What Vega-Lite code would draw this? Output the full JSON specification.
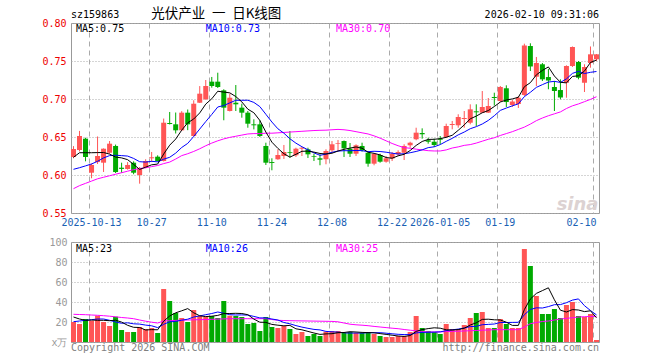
{
  "$schema": "https://vega.github.io/schema/vega-lite/v6.json",
  "padding": {"left": 41, "top": 6, "right": 4, "bottom": 4},
  "background": "white",
  "bounds": "flush",
  "spacing": 29,
  "config": {
    "view": {"stroke": "#999999", "strokeWidth": 1},
    "axis": {"domain": false, "ticks": false, "labelFont": "DejaVu Sans Mono", "labelFontSize": 10, "labelOverlap": false},
    "text": {"font": "DejaVu Sans Mono", "fontSize": 10}
  },
  "datasets": {
    "k": [
      {"d":"2025-09-30","o":0.6237,"h":0.638,"l":0.622,"c":0.6342,"v":20,"m5":0.6233,"m10":0.6075,"m30":0.582,"vm5":25,"vm10":20.3,"vm30":27.7},
      {"d":"2025-10-09","o":0.6329,"h":0.658,"l":0.631,"c":0.6513,"v":18,"m5":0.6293,"m10":0.6096,"m30":0.586,"vm5":23,"vm10":21,"vm30":27.5},
      {"d":"2025-10-10","o":0.6478,"h":0.649,"l":0.618,"c":0.6237,"v":23,"m5":0.6293,"m10":0.612,"m30":0.589,"vm5":21.7,"vm10":21.7,"vm30":27.3},
      {"d":"2025-10-13","o":0.603,"h":0.615,"l":0.5957,"c":0.6132,"v":21.3,"m5":0.6293,"m10":0.6145,"m30":0.592,"vm5":22,"vm10":22.3,"vm30":27},
      {"d":"2025-10-14","o":0.617,"h":0.6507,"l":0.6145,"c":0.625,"v":26.3,"m5":0.6295,"m10":0.618,"m30":0.595,"vm5":21.7,"vm10":23,"vm30":26.7},
      {"d":"2025-10-15","o":0.6162,"h":0.635,"l":0.604,"c":0.6346,"v":20,"m5":0.6296,"m10":0.6225,"m30":0.597,"vm5":21.7,"vm10":23,"vm30":26.3},
      {"d":"2025-10-16","o":0.6293,"h":0.6447,"l":0.628,"c":0.6412,"v":16,"m5":0.6275,"m10":0.6255,"m30":0.599,"vm5":21.3,"vm10":21.7,"vm30":25.8},
      {"d":"2025-10-17","o":0.6382,"h":0.64,"l":0.6026,"c":0.6039,"v":25.3,"m5":0.6236,"m10":0.626,"m30":0.601,"vm5":21.8,"vm10":20,"vm30":25.2},
      {"d":"2025-10-20","o":0.6096,"h":0.6162,"l":0.603,"c":0.608,"v":12,"m5":0.6225,"m10":0.6255,"m30":0.603,"vm5":19.9,"vm10":18.7,"vm30":24.5},
      {"d":"2025-10-21","o":0.6079,"h":0.617,"l":0.607,"c":0.6132,"v":10,"m5":0.6202,"m10":0.6249,"m30":0.605,"vm5":16.7,"vm10":19.2,"vm30":24},
      {"d":"2025-10-22","o":0.6162,"h":0.618,"l":0.601,"c":0.603,"v":10,"m5":0.6139,"m10":0.6218,"m30":0.607,"vm5":14.7,"vm10":18.2,"vm30":23.3},
      {"d":"2025-10-23","o":0.6,"h":0.6105,"l":0.5886,"c":0.609,"v":15,"m5":0.6074,"m10":0.6175,"m30":0.6085,"vm5":14.5,"vm10":17.9,"vm30":22},
      {"d":"2025-10-24","o":0.6096,"h":0.6207,"l":0.609,"c":0.6184,"v":13,"m5":0.6103,"m10":0.617,"m30":0.6095,"vm5":12,"vm10":16.9,"vm30":20.8},
      {"d":"2025-10-27","o":0.622,"h":0.6303,"l":0.617,"c":0.6233,"v":14,"m5":0.6134,"m10":0.618,"m30":0.611,"vm5":12.4,"vm10":16.2,"vm30":19.8},
      {"d":"2025-10-28","o":0.6241,"h":0.6259,"l":0.6178,"c":0.6184,"v":9,"m5":0.6144,"m10":0.6173,"m30":0.6125,"vm5":12.2,"vm10":14.4,"vm30":19},
      {"d":"2025-10-29","o":0.6184,"h":0.6743,"l":0.6178,"c":0.6688,"v":53,"m5":0.6276,"m10":0.6208,"m30":0.615,"vm5":20.8,"vm10":17.7,"vm30":21},
      {"d":"2025-10-30","o":0.6684,"h":0.6829,"l":0.6665,"c":0.6671,"v":41,"m5":0.6392,"m10":0.6233,"m30":0.617,"vm5":26,"vm10":20.2,"vm30":21.3},
      {"d":"2025-10-31","o":0.6667,"h":0.6822,"l":0.6546,"c":0.6588,"v":29,"m5":0.6473,"m10":0.6288,"m30":0.621,"vm5":29.2,"vm10":20.6,"vm30":21.6},
      {"d":"2025-11-03","o":0.6588,"h":0.684,"l":0.658,"c":0.682,"v":24,"m5":0.659,"m10":0.6362,"m30":0.6255,"vm5":31.2,"vm10":21.8,"vm30":21.8},
      {"d":"2025-11-04","o":0.682,"h":0.6862,"l":0.659,"c":0.6667,"v":20,"m5":0.6687,"m10":0.6416,"m30":0.628,"vm5":33.4,"vm10":22.8,"vm30":22},
      {"d":"2025-11-05","o":0.6513,"h":0.6983,"l":0.6507,"c":0.6938,"v":32,"m5":0.6737,"m10":0.6507,"m30":0.631,"vm5":29.2,"vm10":25,"vm30":22.2},
      {"d":"2025-11-06","o":0.6951,"h":0.717,"l":0.6947,"c":0.707,"v":26,"m5":0.6817,"m10":0.6605,"m30":0.6345,"vm5":26.2,"vm10":26.1,"vm30":22.3},
      {"d":"2025-11-07","o":0.6996,"h":0.725,"l":0.699,"c":0.7171,"v":25,"m5":0.6933,"m10":0.6703,"m30":0.6385,"vm5":25.4,"vm10":27.3,"vm30":22.5},
      {"d":"2025-11-10","o":0.7228,"h":0.729,"l":0.7149,"c":0.7171,"v":26,"m5":0.7003,"m10":0.6797,"m30":0.642,"vm5":25.8,"vm10":28.5,"vm30":22.7},
      {"d":"2025-11-11","o":0.7228,"h":0.7346,"l":0.7145,"c":0.7158,"v":24,"m5":0.7102,"m10":0.6895,"m30":0.645,"vm5":26.6,"vm10":30,"vm30":22.9},
      {"d":"2025-11-12","o":0.7114,"h":0.7128,"l":0.672,"c":0.6886,"v":41,"m5":0.7091,"m10":0.6914,"m30":0.6475,"vm5":28.4,"vm10":28.8,"vm30":23.1},
      {"d":"2025-11-13","o":0.6842,"h":0.707,"l":0.6836,"c":0.7017,"v":26.3,"m5":0.7081,"m10":0.6949,"m30":0.6495,"vm5":28.5,"vm10":27.3,"vm30":23.3},
      {"d":"2025-11-14","o":0.6951,"h":0.7184,"l":0.6842,"c":0.693,"v":26,"m5":0.7032,"m10":0.6983,"m30":0.651,"vm5":28.7,"vm10":27,"vm30":23.3},
      {"d":"2025-11-17","o":0.6886,"h":0.6938,"l":0.6754,"c":0.682,"v":25,"m5":0.6962,"m10":0.6983,"m30":0.6525,"vm5":28.5,"vm10":27.1,"vm30":23.3},
      {"d":"2025-11-18","o":0.682,"h":0.6842,"l":0.6622,"c":0.6675,"v":18,"m5":0.6866,"m10":0.6984,"m30":0.654,"vm5":27.3,"vm10":26.9,"vm30":23.3},
      {"d":"2025-11-19","o":0.6667,"h":0.6733,"l":0.66,"c":0.6654,"v":19,"m5":0.6819,"m10":0.6955,"m30":0.6545,"vm5":22.9,"vm10":25.6,"vm30":23.3},
      {"d":"2025-11-20","o":0.6667,"h":0.672,"l":0.65,"c":0.6513,"v":11,"m5":0.6718,"m10":0.69,"m30":0.6545,"vm5":19.8,"vm10":24.1,"vm30":23.3},
      {"d":"2025-11-21","o":0.6382,"h":0.6425,"l":0.6132,"c":0.6162,"v":25,"m5":0.6565,"m10":0.6799,"m30":0.655,"vm5":19.6,"vm10":24.1,"vm30":23.3},
      {"d":"2025-11-24","o":0.617,"h":0.622,"l":0.6062,"c":0.6158,"v":15,"m5":0.6432,"m10":0.6697,"m30":0.655,"vm5":17.6,"vm10":23,"vm30":22.5},
      {"d":"2025-11-25","o":0.6207,"h":0.6338,"l":0.62,"c":0.6263,"v":14,"m5":0.635,"m10":0.6608,"m30":0.6555,"vm5":16.8,"vm10":22,"vm30":21.7},
      {"d":"2025-11-26","o":0.625,"h":0.6395,"l":0.6211,"c":0.6303,"v":16,"m5":0.628,"m10":0.655,"m30":0.656,"vm5":16.2,"vm10":19.5,"vm30":21.5},
      {"d":"2025-11-27","o":0.6299,"h":0.6579,"l":0.6228,"c":0.6289,"v":13,"m5":0.6235,"m10":0.6477,"m30":0.6565,"vm5":16.6,"vm10":18.2,"vm30":21.3},
      {"d":"2025-11-28","o":0.6259,"h":0.6359,"l":0.6237,"c":0.6346,"v":8,"m5":0.6272,"m10":0.6419,"m30":0.657,"vm5":13.2,"vm10":16.4,"vm30":21.2},
      {"d":"2025-12-01","o":0.6346,"h":0.6368,"l":0.625,"c":0.6359,"v":10,"m5":0.6312,"m10":0.6372,"m30":0.6575,"vm5":12.2,"vm10":14.9,"vm30":21.1},
      {"d":"2025-12-02","o":0.6338,"h":0.6359,"l":0.6224,"c":0.6272,"v":6,"m5":0.6314,"m10":0.6332,"m30":0.658,"vm5":10.6,"vm10":13.7,"vm30":21},
      {"d":"2025-12-03","o":0.6246,"h":0.628,"l":0.6184,"c":0.6237,"v":8,"m5":0.6301,"m10":0.6291,"m30":0.6585,"vm5":9,"vm10":12.6,"vm30":20.9},
      {"d":"2025-12-04","o":0.622,"h":0.6272,"l":0.6128,"c":0.6201,"v":6,"m5":0.6283,"m10":0.6259,"m30":0.6588,"vm5":7.6,"vm10":12.1,"vm30":20.8},
      {"d":"2025-12-05","o":0.6207,"h":0.6338,"l":0.6141,"c":0.6316,"v":10.3,"m5":0.6277,"m10":0.6275,"m30":0.659,"vm5":8.1,"vm10":10.6,"vm30":20.7},
      {"d":"2025-12-08","o":0.6325,"h":0.6447,"l":0.6293,"c":0.6404,"v":11,"m5":0.6286,"m10":0.6299,"m30":0.6595,"vm5":8.3,"vm10":10.2,"vm30":20.6},
      {"d":"2025-12-09","o":0.6408,"h":0.6461,"l":0.6316,"c":0.6417,"v":11,"m5":0.6315,"m10":0.6315,"m30":0.66,"vm5":9.3,"vm10":9.9,"vm30":20.2},
      {"d":"2025-12-10","o":0.6447,"h":0.6454,"l":0.6237,"c":0.6351,"v":9,"m5":0.6338,"m10":0.632,"m30":0.6595,"vm5":9.5,"vm10":9.2,"vm30":19},
      {"d":"2025-12-11","o":0.6346,"h":0.6421,"l":0.6237,"c":0.628,"v":10,"m5":0.6354,"m10":0.6319,"m30":0.6585,"vm5":10.3,"vm10":8.9,"vm30":17.8},
      {"d":"2025-12-12","o":0.628,"h":0.6404,"l":0.625,"c":0.6391,"v":9,"m5":0.6369,"m10":0.6323,"m30":0.657,"vm5":10,"vm10":9,"vm30":17.2},
      {"d":"2025-12-15","o":0.6382,"h":0.6425,"l":0.6307,"c":0.6325,"v":9,"m5":0.6353,"m10":0.632,"m30":0.6555,"vm5":9.6,"vm10":8.9,"vm30":16.8},
      {"d":"2025-12-16","o":0.6293,"h":0.6316,"l":0.6109,"c":0.6149,"v":10,"m5":0.6299,"m10":0.6307,"m30":0.654,"vm5":9.4,"vm10":9.3,"vm30":16.3},
      {"d":"2025-12-17","o":0.6149,"h":0.6289,"l":0.6128,"c":0.628,"v":8,"m5":0.6285,"m10":0.6312,"m30":0.6515,"vm5":9.2,"vm10":9.3,"vm30":15.6},
      {"d":"2025-12-18","o":0.6263,"h":0.628,"l":0.6162,"c":0.6175,"v":6,"m5":0.6264,"m10":0.6309,"m30":0.6485,"vm5":8.4,"vm10":9.3,"vm30":15},
      {"d":"2025-12-19","o":0.6175,"h":0.625,"l":0.6162,"c":0.622,"v":5,"m5":0.623,"m10":0.63,"m30":0.645,"vm5":7.6,"vm10":8.8,"vm30":14.4},
      {"d":"2025-12-22","o":0.6217,"h":0.6303,"l":0.6184,"c":0.628,"v":5,"m5":0.6221,"m10":0.6287,"m30":0.6415,"vm5":6.8,"vm10":8.2,"vm30":13.8},
      {"d":"2025-12-23","o":0.6272,"h":0.6325,"l":0.625,"c":0.6303,"v":6,"m5":0.6252,"m10":0.6276,"m30":0.6385,"vm5":6,"vm10":7.7,"vm30":13.3},
      {"d":"2025-12-24","o":0.6293,"h":0.6404,"l":0.6197,"c":0.6382,"v":6,"m5":0.6272,"m10":0.6279,"m30":0.636,"vm5":5.6,"vm10":7.4,"vm30":12.5},
      {"d":"2025-12-25","o":0.6391,"h":0.6438,"l":0.6359,"c":0.6425,"v":10,"m5":0.6322,"m10":0.6293,"m30":0.6352,"vm5":6.4,"vm10":7.4,"vm30":11.8},
      {"d":"2025-12-26","o":0.647,"h":0.6622,"l":0.6457,"c":0.6557,"v":26,"m5":0.6389,"m10":0.631,"m30":0.634,"vm5":10.6,"vm10":9.1,"vm30":11.2},
      {"d":"2025-12-29","o":0.6553,"h":0.6614,"l":0.6478,"c":0.6536,"v":14,"m5":0.6441,"m10":0.6331,"m30":0.633,"vm5":12.4,"vm10":9.6,"vm30":10.6},
      {"d":"2025-12-30","o":0.6457,"h":0.649,"l":0.6412,"c":0.6438,"v":11,"m5":0.6468,"m10":0.636,"m30":0.632,"vm5":13.4,"vm10":9.7,"vm30":10.1},
      {"d":"2025-12-31","o":0.6438,"h":0.6478,"l":0.6368,"c":0.6395,"v":10,"m5":0.647,"m10":0.6371,"m30":0.6316,"vm5":14.2,"vm10":9.9,"vm30":10},
      {"d":"2026-01-05","o":0.6478,"h":0.6513,"l":0.6404,"c":0.6464,"v":8,"m5":0.6478,"m10":0.64,"m30":0.6316,"vm5":13.8,"vm10":10.1,"vm30":10.2},
      {"d":"2026-01-06","o":0.65,"h":0.6675,"l":0.6487,"c":0.6645,"v":18,"m5":0.6496,"m10":0.6443,"m30":0.633,"vm5":12.2,"vm10":11.4,"vm30":10.4},
      {"d":"2026-01-07","o":0.6658,"h":0.6711,"l":0.6601,"c":0.6671,"v":13,"m5":0.6523,"m10":0.6482,"m30":0.6355,"vm5":12,"vm10":12.2,"vm30":10.6},
      {"d":"2026-01-08","o":0.6654,"h":0.6799,"l":0.6622,"c":0.6763,"v":13,"m5":0.6588,"m10":0.6528,"m30":0.637,"vm5":12.4,"vm10":12.9,"vm30":10.8},
      {"d":"2026-01-09","o":0.6737,"h":0.6842,"l":0.6622,"c":0.675,"v":17,"m5":0.6659,"m10":0.6565,"m30":0.639,"vm5":13.8,"vm10":14,"vm30":11},
      {"d":"2026-01-12","o":0.6688,"h":0.693,"l":0.6667,"c":0.6864,"v":24,"m5":0.6739,"m10":0.6609,"m30":0.64,"vm5":17,"vm10":15.4,"vm30":11.3},
      {"d":"2026-01-13","o":0.6838,"h":0.693,"l":0.6645,"c":0.6825,"v":29,"m5":0.6775,"m10":0.6636,"m30":0.642,"vm5":19.2,"vm10":15.7,"vm30":11.5},
      {"d":"2026-01-14","o":0.682,"h":0.7105,"l":0.6816,"c":0.6895,"v":30,"m5":0.6819,"m10":0.6671,"m30":0.6445,"vm5":22.6,"vm10":17.3,"vm30":11.8},
      {"d":"2026-01-15","o":0.682,"h":0.7013,"l":0.6816,"c":0.6908,"v":14,"m5":0.6848,"m10":0.6718,"m30":0.647,"vm5":22.8,"vm10":17.6,"vm30":12},
      {"d":"2026-01-16","o":0.7026,"h":0.7083,"l":0.6914,"c":0.7013,"v":14,"m5":0.6901,"m10":0.678,"m30":0.649,"vm5":22.2,"vm10":18,"vm30":12.3},
      {"d":"2026-01-19","o":0.6974,"h":0.7171,"l":0.696,"c":0.7158,"v":23,"m5":0.696,"m10":0.685,"m30":0.652,"vm5":22,"vm10":19.5,"vm30":12.3},
      {"d":"2026-01-20","o":0.7141,"h":0.718,"l":0.6895,"c":0.696,"v":18,"m5":0.6987,"m10":0.6881,"m30":0.6545,"vm5":19.8,"vm10":19.5,"vm30":12.3},
      {"d":"2026-01-21","o":0.6921,"h":0.6987,"l":0.6895,"c":0.6967,"v":14,"m5":0.7001,"m10":0.691,"m30":0.657,"vm5":16.6,"vm10":19.6,"vm30":12.3},
      {"d":"2026-01-22","o":0.6934,"h":0.7039,"l":0.6882,"c":0.7017,"v":14,"m5":0.7023,"m10":0.6936,"m30":0.66,"vm5":16.6,"vm10":19.7,"vm30":12.3},
      {"d":"2026-01-23","o":0.7053,"h":0.7728,"l":0.704,"c":0.7704,"v":93,"m5":0.7161,"m10":0.7031,"m30":0.663,"vm5":32.4,"vm10":27.3,"vm30":15},
      {"d":"2026-01-26","o":0.7697,"h":0.7733,"l":0.7368,"c":0.7428,"v":76,"m5":0.7215,"m10":0.7088,"m30":0.667,"vm5":43,"vm10":32.5,"vm30":18.3},
      {"d":"2026-01-27","o":0.7293,"h":0.7553,"l":0.7171,"c":0.7474,"v":46,"m5":0.7318,"m10":0.7153,"m30":0.6715,"vm5":48.6,"vm10":34.2,"vm30":19.5},
      {"d":"2026-01-28","o":0.7457,"h":0.7474,"l":0.7237,"c":0.7259,"v":28,"m5":0.7376,"m10":0.7189,"m30":0.675,"vm5":51.4,"vm10":34,"vm30":20.5},
      {"d":"2026-01-29","o":0.7289,"h":0.7395,"l":0.7128,"c":0.7243,"v":28,"m5":0.7422,"m10":0.7223,"m30":0.678,"vm5":54.2,"vm10":35.4,"vm30":21},
      {"d":"2026-01-30","o":0.7158,"h":0.7237,"l":0.6842,"c":0.7105,"v":33,"m5":0.7302,"m10":0.7232,"m30":0.6805,"vm5":42.2,"vm10":37.3,"vm30":22},
      {"d":"2026-02-02","o":0.7118,"h":0.7259,"l":0.6996,"c":0.702,"v":24,"m5":0.722,"m10":0.7218,"m30":0.683,"vm5":31.8,"vm10":37.4,"vm30":23},
      {"d":"2026-02-03","o":0.7214,"h":0.7443,"l":0.7017,"c":0.7434,"v":37,"m5":0.7212,"m10":0.7265,"m30":0.6875,"vm5":30,"vm10":39.3,"vm30":23.6},
      {"d":"2026-02-04","o":0.7434,"h":0.7691,"l":0.7421,"c":0.7684,"v":40,"m5":0.7297,"m10":0.7337,"m30":0.691,"vm5":32.4,"vm10":41.9,"vm30":24.3},
      {"d":"2026-02-05","o":0.7487,"h":0.75,"l":0.7259,"c":0.728,"v":26,"m5":0.7305,"m10":0.7364,"m30":0.6935,"vm5":32,"vm10":43.1,"vm30":25},
      {"d":"2026-02-06","o":0.7214,"h":0.7457,"l":0.7092,"c":0.7421,"v":25,"m5":0.7368,"m10":0.7335,"m30":0.6965,"vm5":30.4,"vm10":36.3,"vm30":25.3},
      {"d":"2026-02-09","o":0.7474,"h":0.7691,"l":0.7412,"c":0.7588,"v":28,"m5":0.7481,"m10":0.7351,"m30":0.6995,"vm5":31.2,"vm10":31.5,"vm30":25.5},
      {"d":"2026-02-10","o":0.7522,"h":0.7592,"l":0.75,"c":0.7588,"v":2,"m5":0.7512,"m10":0.7362,"m30":0.703,"vm5":24.2,"vm10":27.1,"vm30":25.7}
    ]
  },
  "vconcat": [
    {
      "width": 528,
      "height": 190,
      "data": {"name": "k"},
      "encoding": {
        "x": {
          "field": "d", "type": "ordinal", "title": null,
          "scale": {"type": "band", "paddingInner": 0.1667, "paddingOuter": 0, "align": 0},
          "axis": {
            "values": ["2025-10-13","2025-10-27","2025-11-10","2025-11-24","2025-12-08","2025-12-22","2026-01-05","2026-01-19","2026-02-10"],
            "bandPosition": 0,
            "labelExpr": "datum.value == '2025-10-13' || datum.value == '2026-01-05' ? datum.value : slice(datum.value, 5)",
            "labelAlign": {"condition": {"test": "datum.value == '2026-02-10'", "value": "right"}, "value": "center"},
            "labelAngle": 0, "labelColor": "#1a5fb4", "labelPadding": 4, "labelOverlap": false,
            "grid": true, "gridDash": [5, 4], "gridColor": "#aaaaaa", "gridWidth": 1
          }
        }
      },
      "layer": [
        {
          "mark": {"type": "rule", "strokeWidth": 1},
          "encoding": {
            "y": {
              "field": "l", "type": "quantitative", "title": null,
              "scale": {"domain": [0.55, 0.8], "nice": false, "zero": false},
              "axis": {"values": [0.55, 0.6, 0.65, 0.7, 0.75, 0.8], "tickCount": 20, "format": ".2f", "labelColor": "#ee0000", "labelPadding": 5, "labelOverlap": false, "grid": true, "gridDash": [1, 2], "gridColor": "#aaaaaa"}
            },
            "y2": {"field": "h"},
            "color": {"condition": {"test": "datum.c >= datum.o", "value": "#ff5555"}, "value": "#00aa00"}
          }
        },
        {
          "mark": {"type": "bar"},
          "encoding": {
            "y": {"field": "o", "type": "quantitative", "title": null},
            "y2": {"field": "c"},
            "color": {"condition": {"test": "datum.c >= datum.o", "value": "#ff5555"}, "value": "#00aa00"}
          }
        },
        {
          "mark": {"type": "line", "strokeWidth": 1, "color": "#ff00ff"},
          "encoding": {"y": {"field": "m30", "type": "quantitative", "title": null}}
        },
        {
          "mark": {"type": "line", "strokeWidth": 1, "color": "#0000ff"},
          "encoding": {"y": {"field": "m10", "type": "quantitative", "title": null}}
        },
        {
          "mark": {"type": "line", "strokeWidth": 1, "color": "#000000"},
          "encoding": {"y": {"field": "m5", "type": "quantitative", "title": null}}
        },
        {
          "data": {"values": [{"t": "sina"}]},
          "mark": {"type": "text", "align": "right", "baseline": "middle", "dx": 2, "font": "DejaVu Sans", "fontSize": 18, "fontWeight": "bold", "fontStyle": "italic", "color": "#dcd2d2"},
          "encoding": {"x": {"datum": "2026-02-10"}, "y": {"datum": 0.5605}, "text": {"field": "t"}}
        },
        {
          "data": {"values": [{"t": "sz159863"}]},
          "mark": {"type": "text", "align": "left", "baseline": "middle", "dx": -2.5, "color": "#000000"},
          "encoding": {"x": {"datum": "2025-09-30"}, "y": {"datum": 0.8101}, "text": {"field": "t"}}
        },
        {
          "data": {"values": [{"t": "光伏产业\u2002一\u2002日K线图"}]},
          "mark": {"type": "text", "align": "left", "baseline": "middle", "dx": -0.5, "font": "Noto Sans CJK SC", "fontSize": 13.5, "color": "#000000"},
          "encoding": {"x": {"datum": "2025-10-27"}, "y": {"datum": 0.8114}, "text": {"field": "t"}}
        },
        {
          "data": {"values": [{"t": "2026-02-10 09:31:06"}]},
          "mark": {"type": "text", "align": "right", "baseline": "middle", "dx": 2.5, "color": "#000000"},
          "encoding": {"x": {"datum": "2026-02-10"}, "y": {"datum": 0.8101}, "text": {"field": "t"}}
        },
        {
          "data": {"values": [{"t": "MA5:0.75"}]},
          "mark": {"type": "text", "align": "left", "baseline": "middle", "dx": 2.5, "color": "#000000"},
          "encoding": {"x": {"datum": "2025-09-30"}, "y": {"datum": 0.7925}, "text": {"field": "t"}}
        },
        {
          "data": {"values": [{"t": "MA10:0.73"}]},
          "mark": {"type": "text", "align": "left", "baseline": "middle", "dx": 0, "color": "#0000ff"},
          "encoding": {"x": {"datum": "2025-11-07"}, "y": {"datum": 0.7925}, "text": {"field": "t"}}
        },
        {
          "data": {"values": [{"t": "MA30:0.70"}]},
          "mark": {"type": "text", "align": "left", "baseline": "middle", "dx": -2, "color": "#ff00ff"},
          "encoding": {"x": {"datum": "2025-12-09"}, "y": {"datum": 0.7925}, "text": {"field": "t"}}
        }
      ]
    },
    {
      "width": 528,
      "height": 100,
      "data": {"name": "k"},
      "encoding": {
        "x": {
          "field": "d", "type": "ordinal", "title": null,
          "scale": {"type": "band", "paddingInner": 0.1667, "paddingOuter": 0, "align": 0},
          "axis": {
            "values": ["2025-10-13","2025-10-27","2025-11-10","2025-11-24","2025-12-08","2025-12-22","2026-01-05","2026-01-19","2026-02-10"],
            "bandPosition": 0, "labels": false,
            "grid": true, "gridDash": [5, 4], "gridColor": "#aaaaaa", "gridWidth": 1
          }
        }
      },
      "layer": [
        {
          "mark": {"type": "bar"},
          "encoding": {
            "y": {
              "field": "v", "type": "quantitative", "title": null,
              "scale": {"domain": [0, 100], "nice": false},
              "axis": {"values": [0, 20, 40, 60, 80, 100], "tickCount": 20, "labelExpr": "datum.value == 0 ? 'x万' : datum.label", "labelColor": "#999999", "labelPadding": 4, "labelOverlap": false, "grid": true, "gridDash": [1, 2], "gridColor": "#aaaaaa"}
            },
            "color": {"condition": {"test": "datum.c >= datum.o", "value": "#ff5555"}, "value": "#00aa00"}
          }
        },
        {
          "mark": {"type": "line", "strokeWidth": 1, "color": "#ff00ff"},
          "encoding": {"y": {"field": "vm30", "type": "quantitative", "title": null}}
        },
        {
          "mark": {"type": "line", "strokeWidth": 1, "color": "#0000ff"},
          "encoding": {"y": {"field": "vm10", "type": "quantitative", "title": null}}
        },
        {
          "mark": {"type": "line", "strokeWidth": 1, "color": "#000000"},
          "encoding": {"y": {"field": "vm5", "type": "quantitative", "title": null}}
        },
        {
          "data": {"values": [{"t": "MA5:23"}]},
          "mark": {"type": "text", "align": "left", "baseline": "middle", "dx": 2.5, "color": "#000000"},
          "encoding": {"x": {"datum": "2025-09-30"}, "y": {"datum": 93.3}, "text": {"field": "t"}}
        },
        {
          "data": {"values": [{"t": "MA10:26"}]},
          "mark": {"type": "text", "align": "left", "baseline": "middle", "dx": 0, "color": "#0000ff"},
          "encoding": {"x": {"datum": "2025-11-07"}, "y": {"datum": 93.3}, "text": {"field": "t"}}
        },
        {
          "data": {"values": [{"t": "MA30:25"}]},
          "mark": {"type": "text", "align": "left", "baseline": "middle", "dx": -2, "color": "#ff00ff"},
          "encoding": {"x": {"datum": "2025-12-09"}, "y": {"datum": 93.3}, "text": {"field": "t"}}
        },
        {
          "data": {"values": [{"t": "Copyright 2026 SINA.COM"}]},
          "mark": {"type": "text", "align": "left", "baseline": "middle", "dx": -2.5, "color": "#808080"},
          "encoding": {"x": {"datum": "2025-09-30"}, "y": {"datum": -5.7}, "text": {"field": "t"}}
        },
        {
          "data": {"values": [{"t": "http://finance.sina.com.cn"}]},
          "mark": {"type": "text", "align": "right", "baseline": "middle", "dx": 2.5, "color": "#808080"},
          "encoding": {"x": {"datum": "2026-02-10"}, "y": {"datum": -5.7}, "text": {"field": "t"}}
        }
      ]
    }
  ]
}
